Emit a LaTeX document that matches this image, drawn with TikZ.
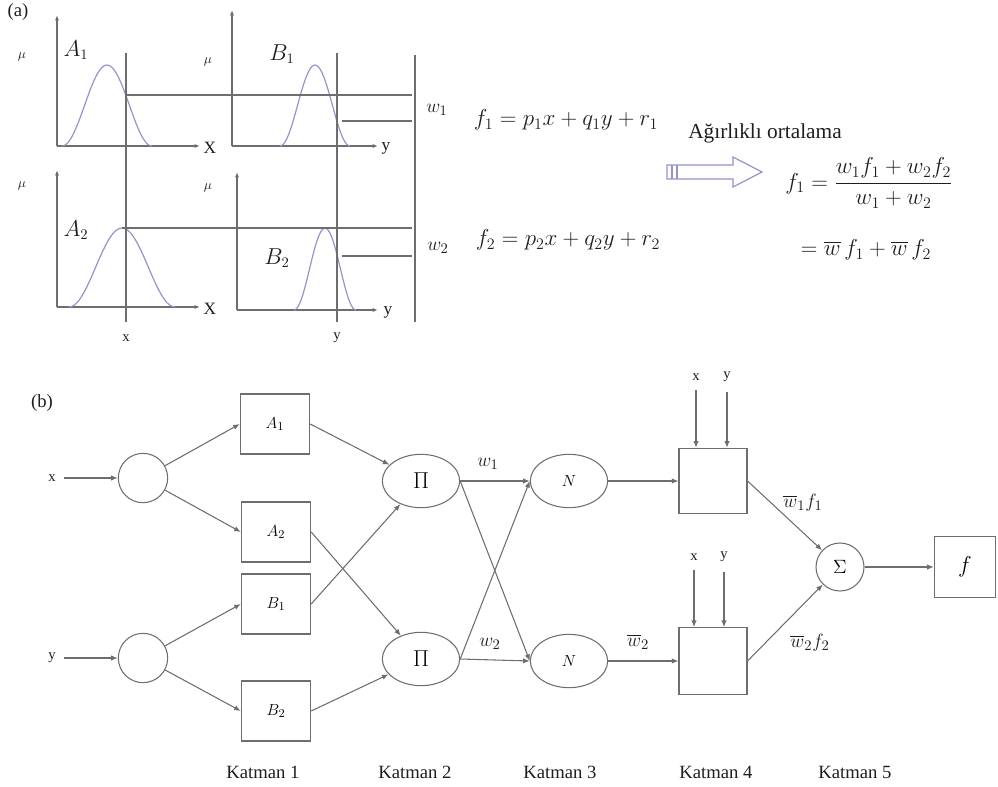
\documentclass[tikz,border=0pt]{standalone}
\usepackage{amsmath}
\usepackage{fontspec}
\setmainfont{LiberationSerif}[Extension=.ttf,UprightFont=*-Regular,BoldFont=*-Bold,ItalicFont=*-Italic,BoldItalicFont=*-BoldItalic]
\usepackage{tikz}
\usetikzlibrary{arrows.meta}
\usetikzlibrary{shapes,shapes.arrows}
\definecolor{ln}{HTML}{6E6E6E}
\definecolor{gs}{HTML}{9494CC}
\definecolor{tx}{HTML}{1E1E1E}
\tikzstyle{bx} = [draw=ln, line width=0.8pt, shape=rectangle, minimum width=52pt, minimum height=45pt, inner sep=0pt]
\tikzstyle{nd} = [draw=ln, line width=0.8pt, shape=circle, minimum size=37pt, inner sep=0pt]
\tikzstyle{el} = [draw=ln, line width=0.8pt, shape=ellipse, minimum width=58pt, minimum height=40pt, inner sep=0pt]
\tikzstyle{arr} = [style={-{Latex[length=5pt,width=4pt]},draw=ln,line width=0.8pt}]
\tikzstyle{ax} = [style={-{Latex[length=4pt,width=3pt]},draw=ln,line width=0.8pt}]
\tikzstyle{gl} = [draw=ln, line width=0.8pt]
\tikzstyle{bell} = [draw=gs, line width=0.9pt, smooth, samples=41]
\tikzstyle{lbl} = [text=tx, inner sep=1pt]

\begin{document}
\begin{tikzpicture}[x=0.75pt,y=-0.75pt]
  \useasboundingbox (0,0) rectangle (998,787);
  % (a) membership functions
  \begin{scope}
    \draw[ax] (57,146) -- (57,15);
    \draw[ax] (57,146) -- (200,146);
    \draw[ax] (232,146) -- (232,10);
    \draw[ax] (232,146) -- (378,146);
    \draw[ax] (57,307) -- (57,170);
    \draw[ax] (57,307) -- (200,307);
    \draw[ax] (237,310) -- (237,172);
    \draw[ax] (237,310) -- (378,310);
    \draw[bell] plot[domain=62:152] (\x,{146-81*(1+cos(180*(\x-107)/45))/2});
    \draw[bell] plot[domain=280:350] (\x,{146-81*(1+cos(180*(\x-315)/35))/2});
    \draw[bell] plot[domain=69:175] (\x,{307-79*(1+cos(180*(\x-122)/53))/2});
    \draw[bell] plot[domain=294:356] (\x,{310-82*(1+cos(180*(\x-325)/31))/2});
    \draw[gl] (126,53) -- (126,322);
    \draw[gl] (337,53) -- (337,322);
    \draw[gl] (415,55) -- (415,322);
    \draw[gl] (126,95) -- (412,95);
    \draw[gl] (342,121) -- (412,121);
    \draw[gl] (122,228) -- (412,228);
    \draw[gl] (342,256) -- (412,256);
    \node[lbl] (la) at (18,12) {\fontsize{14}{16}\selectfont (a)};
    \node[lbl] (mu1) at (22,57) {\fontsize{10}{11}\selectfont$\mu$};
    \node[lbl] (mu2) at (208,62) {\fontsize{10}{11}\selectfont$\mu$};
    \node[lbl] (mu3) at (22,186) {\fontsize{10}{11}\selectfont$\mu$};
    \node[lbl] (mu4) at (208,188) {\fontsize{10}{11}\selectfont$\mu$};
    \node[lbl] (a1) at (76,50) {\fontsize{16}{18}\selectfont$A_1$};
    \node[lbl] (b1) at (282,54) {\fontsize{16}{18}\selectfont$B_1$};
    \node[lbl] (a2) at (76,230) {\fontsize{16}{18}\selectfont$A_2$};
    \node[lbl] (b2) at (277,258) {\fontsize{16}{18}\selectfont$B_2$};
    \node[lbl] (X1) at (210,148) {\fontsize{13}{15}\selectfont X};
    \node[lbl] (Y1) at (386,148) {\fontsize{13}{15}\selectfont y};
    \node[lbl] (X2) at (210,309) {\fontsize{13}{15}\selectfont X};
    \node[lbl] (Y2) at (388,312) {\fontsize{13}{15}\selectfont y};
    \node[lbl] (xv) at (126,338) {\fontsize{11}{13}\selectfont x};
    \node[lbl] (yv) at (337,338) {\fontsize{11}{13}\selectfont y};
    \node[lbl] (wa) at (437,110) {\fontsize{15}{17}\selectfont$w_1$};
    \node[lbl] (wb) at (438,248) {\fontsize{15}{17}\selectfont$w_2$};
  \end{scope}
  % (a) rules and averaging
  \begin{scope}
    \node[lbl] (f1) at (566,120) {\fontsize{17}{20}\selectfont$f_1 = p_1x + q_1y + r_1$};
    \node[lbl] (f2) at (568,240) {\fontsize{17}{20}\selectfont$f_2 = p_2x + q_2y + r_2$};
    \node[lbl] (ort) at (765,133) {\fontsize{16}{18}\selectfont Ağırlıklı ortalama};
    \draw[draw=gs, line width=0.9pt, fill=white] (667,165) -- (733,165) -- (733,157) -- (762,172)
      -- (733,187) -- (733,179) -- (667,179) -- cycle;
    \draw[draw=gs, line width=0.9pt] (672,165) -- (672,179) (677,165) -- (677,179);
    \node[lbl] (fo) at (869,183) {\fontsize{17}{20}\selectfont$f_1 = \dfrac{w_1f_1 + w_2f_2}{w_1 + w_2}$};
    \node[lbl] (fw) at (866,250) {\fontsize{17}{20}\selectfont$= \overline{w}\,f_1 + \overline{w}\,f_2$};
  \end{scope}
  % (b) network
  \begin{scope}
    \node[lbl] (lb) at (42,403) {\fontsize{14}{16}\selectfont (b)};
    \node[lbl, inner sep=6pt] (x) at (52,478) {\fontsize{11}{13}\selectfont x};
    \node[lbl, inner sep=6pt] (y) at (52,658) {\fontsize{11}{13}\selectfont y};
    \node[nd] (c1) at (143,478) {};
    \node[nd] (c2) at (143,658) {};
    \node[bx] (A1) at (275,424) {\fontsize{13}{15}\selectfont$A_1$};
    \node[bx] (A2) at (276,532) {\fontsize{13}{15}\selectfont$A_2$};
    \node[bx] (B1) at (276,604) {\fontsize{13}{15}\selectfont$B_1$};
    \node[bx] (B2) at (276,711) {\fontsize{13}{15}\selectfont$B_2$};
    \node[el] (P1) at (421,481) {\fontsize{17}{19}\selectfont$\Pi$};
    \node[el] (P2) at (421,659) {\fontsize{17}{19}\selectfont$\Pi$};
    \node[el] (N1) at (569,481) {\fontsize{12}{14}\selectfont$N$};
    \node[el] (N2) at (569,661) {\fontsize{12}{14}\selectfont$N$};
    \node[bx, minimum width=51pt, minimum height=49pt] (L1) at (713,481) {};
    \node[bx, minimum width=51pt, minimum height=50pt] (L2) at (713,661) {};
    \node[nd, minimum size=36pt] (S) at (840,567) {\fontsize{15}{17}\selectfont$\Sigma$};
    \node[bx, minimum width=46pt, minimum height=46pt] (F) at (965,567) {\fontsize{16}{18}\selectfont$f$};
    \node[lbl] (x1) at (696,377) {\fontsize{11}{13}\selectfont x};
    \node[lbl] (y1) at (727,377) {\fontsize{11}{13}\selectfont y};
    \node[lbl] (x2) at (694,557) {\fontsize{11}{13}\selectfont x};
    \node[lbl] (y2) at (724,557) {\fontsize{11}{13}\selectfont y};
    \draw[arr] (x) -- (c1);
    \draw[arr] (y) -- (c2);
    \draw[arr] (c1) -- (A1.west);
    \draw[arr] (c1) -- (A2.west);
    \draw[arr] (c2) -- (B1.west);
    \draw[arr] (c2) -- (B2.west);
    \draw[arr] (A1.east) -- (P1);
    \draw[arr] (A2.east) -- (P2);
    \draw[arr] (B1.east) -- (P1);
    \draw[arr] (B2.east) -- (P2);
    \draw[arr] (P1.east) -- (N1.west);
    \draw[arr] (P1.east) -- (N2.west);
    \draw[arr] (P2.east) -- (N1.west);
    \draw[arr] (P2.east) -- (N2.west);
    \draw[arr] (N1) -- (L1);
    \draw[arr] (N2) -- (L2);
    \draw[arr] ([yshift=-6pt]x1.south) -- (L1.north -| x1);
    \draw[arr] ([yshift=-6pt]y1.south) -- (L1.north -| y1);
    \draw[arr] ([yshift=-6pt]x2.south) -- (L2.north -| x2);
    \draw[arr] ([yshift=-6pt]y2.south) -- (L2.north -| y2);
    \draw[arr] (L1.east) -- (S);
    \draw[arr] (L2.east) -- (S);
    \draw[arr] (S) -- (F);
    \node[lbl] (w1) at (488,464) {\fontsize{15}{17}\selectfont$w_1$};
    \node[lbl] (w2) at (490,644) {\fontsize{15}{17}\selectfont$w_2$};
    \node[lbl] (wn2) at (638,642) {\fontsize{15}{17}\selectfont$\overline{w}_2$};
    \node[lbl] (wf1) at (803,503) {\fontsize{15}{17}\selectfont$\overline{w}_1f_1$};
    \node[lbl] (wf2) at (810,643) {\fontsize{15}{17}\selectfont$\overline{w}_2f_2$};
    \foreach \n/\px in {1/263,2/415,3/560,4/716,5/855}
      \node[lbl] (k\n) at (\px,772) {\fontsize{14}{16}\selectfont Katman \n};
  \end{scope}
\end{tikzpicture}
\end{document}
